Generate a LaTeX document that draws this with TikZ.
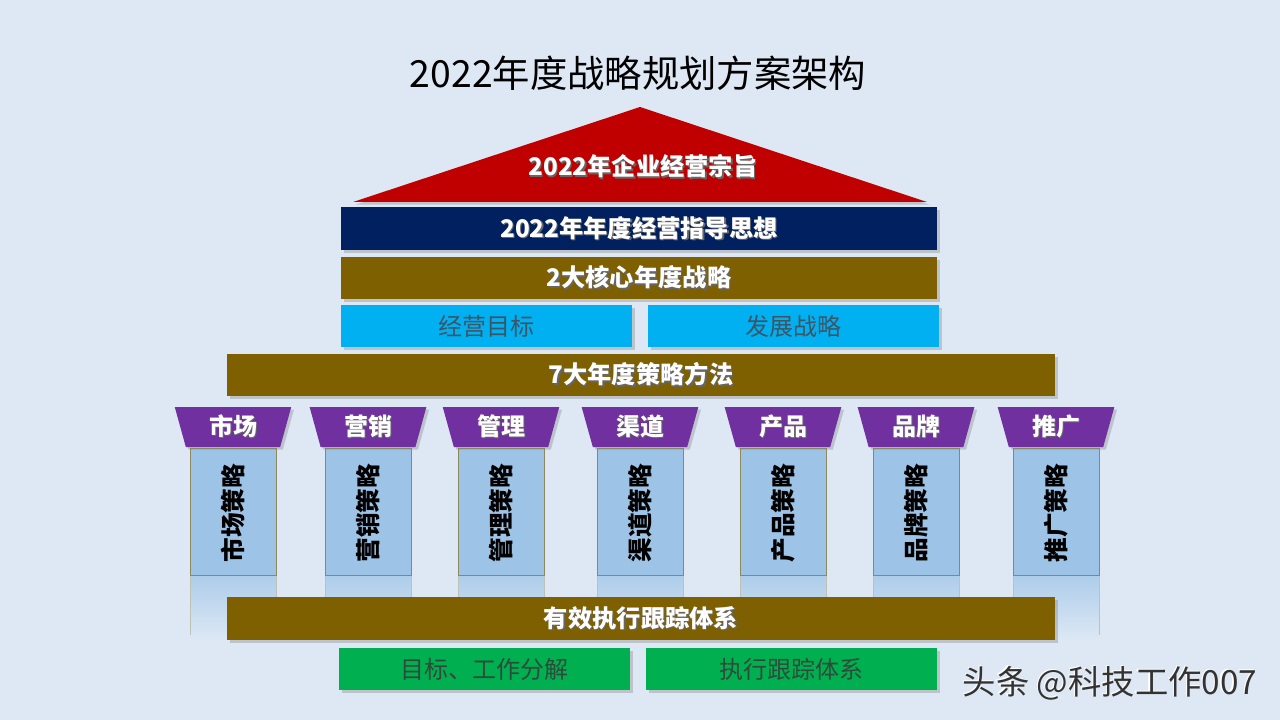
\documentclass[tikz,border=0pt]{standalone}
\usepackage{fontspec}
\setmainfont{Noto Sans CJK SC}
\usetikzlibrary{shapes.geometric,shadows}
\definecolor{bg}{HTML}{DDE8F4}
\definecolor{roofred}{HTML}{C00000}
\definecolor{navy}{HTML}{002060}
\definecolor{olive}{HTML}{7F6000}
\definecolor{cyanbox}{HTML}{00B0F0}
\definecolor{purp}{HTML}{7030A0}
\definecolor{pillar}{HTML}{9DC3E6}
\definecolor{pillaredge}{HTML}{8C8A5C}
\definecolor{greenbox}{HTML}{00B050}
\definecolor{softtext}{HTML}{3E5566}
\definecolor{greentext}{HTML}{2E4A3A}
\newcommand\shd[1]{\makebox[0pt][l]{\kern1pt\raisebox{-1pt}{\color{black!60}#1}}#1}
\newcommand\wshd[1]{\makebox[0pt][l]{\kern-1pt\raisebox{1pt}{\color{white}#1}}#1}
\tikzset{
  shdw/.style={drop shadow={opacity=0.35,shadow xshift=2pt,shadow yshift=-2pt}},
  bar/.style={shdw,inner sep=0pt,minimum height=#1*0.75pt,text=white,
     font=\bfseries\fontsize{18.2}{21}\selectfont},
  softbox/.style={shdw,fill=cyanbox,inner sep=0pt,minimum width=291*0.75pt,
     minimum height=42*0.75pt,text=softtext,font=\fontsize{18}{21}\selectfont},
  greenbx/.style={shdw,fill=greenbox,inner sep=0pt,minimum width=291*0.75pt,
     minimum height=42*0.75pt,text=greentext,font=\fontsize{18}{21}\selectfont},
  capbox/.style={shdw,fill=purp,trapezium,trapezium angle=77,shape border rotate=180,
     trapezium stretches=true,minimum width=117*0.75pt,minimum height=40*0.75pt,
     inner sep=0pt,text=white,font=\bfseries\fontsize{18}{21}\selectfont},
  pillarbox/.style={fill=pillar,draw=pillaredge,line width=0.5pt,inner sep=0pt,
     minimum width=86*0.75pt,minimum height=127*0.75pt},
  pillartext/.style={rotate=90,inner sep=0pt,text=black,
     font=\bfseries\fontsize{18.5}{21}\selectfont},
  refl/.style={top color=pillar!75!bg,bottom color=bg,draw=none},
}
\begin{document}
\begin{tikzpicture}[x=0.75pt,y=-0.75pt]
\fill[bg] (0,0) rectangle (1280,720);
\useasboundingbox (0,0) rectangle (1280,720);
% title
\node (title) at (638,73) {\fontsize{28}{33}\selectfont 2022年度战略规划方案架构};
% roof
\fill[roofred,shdw] (353,202) -- (640,107) -- (927,202) -- cycle;
\node[text=white,font=\bfseries\fontsize{18.2}{21}\selectfont] (roof) at (643,167) {\shd{2022年企业经营宗旨}};
% bars
\node[bar=43,fill=navy,minimum width=596*0.75pt] (guide) at (639,228.5) {\shd{2022年年度经营指导思想}};
\node[bar=42,fill=olive,minimum width=596*0.75pt] (core) at (639,278) {\shd{2大核心年度战略}};
\node[softbox] (goal) at (486.5,326) {经营目标};
\node[softbox] (dev) at (793.5,326) {发展战略};
\node[bar=42,fill=olive,minimum width=828*0.75pt] (seven) at (641,375) {\shd{7大年度策略方法}};
% pillars
\foreach \x/\cp/\pt/\nm in {233/市场/市场策略/p1,368/营销/营销策略/p2,501/管理/管理策略/p3,
    640/渠道/渠道策略/p4,783/产品/产品策略/p5,916/品牌/品牌策略/p6,1056/推广/推广策略/p7}{
  \fill[refl] (\x-43,575) rectangle (\x+43,640);
  \draw[pillaredge!40!bg,line width=0.5pt] (\x-43,575) -- (\x-43,635);
  \draw[pillaredge!40!bg,line width=0.5pt] (\x+43,575) -- (\x+43,635);
  \node[pillarbox] (\nm) at (\x,511.5) {};
  \node[pillartext] (\nm t) at (\x,513) {\pt};
  \node[capbox] (\nm c) at (\x,427) {\shd{\cp}};
}
% bottom
\node[bar=43,fill=olive,minimum width=828*0.75pt] (track) at (641,618.5) {\shd{有效执行跟踪体系}};
\node[greenbx] (split) at (484.5,669) {目标、工作分解};
\node[greenbx] (sys) at (791.5,669) {执行跟踪体系};
% watermark
\node[text=black!80,font=\fontsize{25}{29}\selectfont] (wm) at (1110,683) {\wshd{头条 @科技工作007}};
\end{tikzpicture}
\end{document}
